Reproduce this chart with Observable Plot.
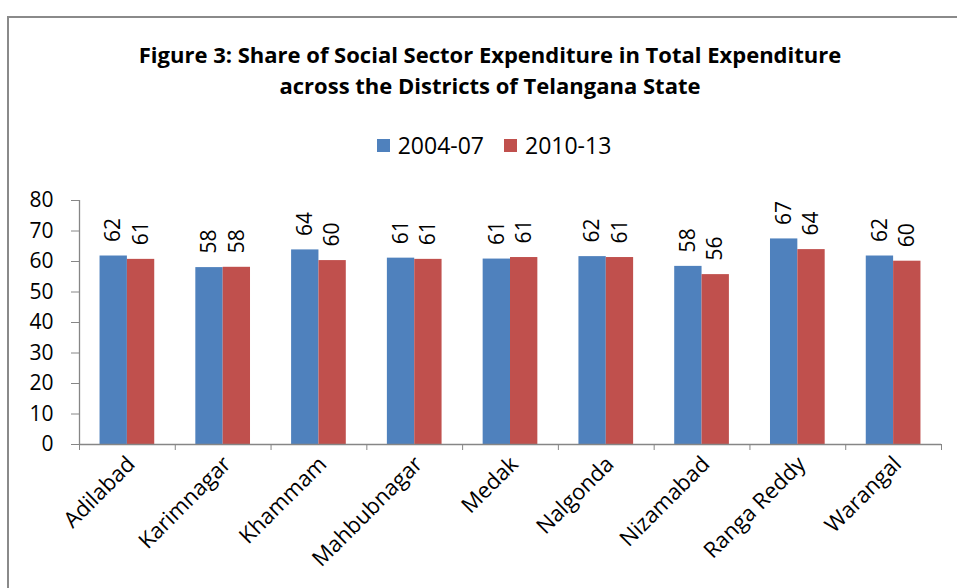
<!DOCTYPE html>
<html>
<head>
<meta charset="utf-8">
<script src="https://cdn.jsdelivr.net/npm/d3@7"></script>
<script src="https://cdn.jsdelivr.net/npm/@observablehq/plot@0.6"></script>
<style>
  html, body { margin: 0; padding: 0; background: #fff; }
  body { width: 957px; height: 588px; overflow: hidden; position: relative; font-family: "Open Sans", sans-serif; color: #000; }
  #frame { position: absolute; left: 7px; top: 16px; width: 1000px; height: 1000px; border-left: 2px solid #8a8a8a; border-top: 2px solid #8a8a8a; }
  #title { position: absolute; left: 0; width: 980px; top: 39px; text-align: center; font-weight: 700; font-size: 22px; line-height: 31px; }
  #legend { position: absolute; left: 0; width: 988px; top: 129px; display: flex; justify-content: center; align-items: center; font-size: 23px; line-height: 32px; }
  #legend .item { display: flex; align-items: center; margin: 0 10px; }
  #legend .sw { width: 13px; height: 13px; margin-right: 8px; display: inline-block; }
  #chart { position: absolute; left: 0; top: 180px; }
</style>
</head>
<body>
<div id="frame"></div>
<div id="title">Figure 3: Share of Social Sector Expenditure in Total Expenditure<br>across the Districts of Telangana State</div>
<div id="legend"></div>
<div id="chart"></div>
<script>
const districts = ["Adilabad", "Karimnagar", "Khammam", "Mahbubnagar", "Medak", "Nalgonda", "Nizamabad", "Ranga Reddy", "Warangal"];
const series = ["2004-07", "2010-13"];
const values2004 = [61.8, 58.0, 63.8, 61.1, 60.8, 61.6, 58.4, 67.4, 61.8];
const values2010 = [60.7, 58.1, 60.3, 60.7, 61.3, 61.3, 55.7, 63.9, 60.1];
const yTicks = [0, 10, 20, 30, 40, 50, 60, 70, 80];
const colors = ["#4F81BD", "#C0504D"];

const half = 0.2855; // half group width as fraction of category step
const data = districts.flatMap((d, i) => [
  {district: d, i, series: series[0], value: values2004[i], x1: i + 0.5 - half, x2: i + 0.5},
  {district: d, i, series: series[1], value: values2010[i], x1: i + 0.5, x2: i + 0.5 + half}
]);

// legend
const legend = document.getElementById("legend");
series.forEach((s, k) => {
  const item = document.createElement("span");
  item.className = "item";
  item.innerHTML = `<span class="sw" style="background:${colors[k]}"></span>${s}`;
  legend.appendChild(item);
});

const axisGray = "#868686";
const plot = Plot.plot({
  width: 957,
  height: 408,
  marginTop: 20,
  marginBottom: 144,
  marginLeft: 79,
  marginRight: 16,
  style: {fontFamily: "Open Sans", color: "#000", background: "transparent", overflow: "visible"},
  x: {type: "linear", domain: [0, districts.length]},
  y: {domain: [0, 80]},
  color: {domain: series, range: colors},
  marks: [
    Plot.rectY(data, {x1: "x1", x2: "x2", y: "value", fill: "series"}),
    Plot.ruleY([0], {stroke: axisGray, strokeWidth: 1.3}),
    Plot.ruleX([0], {stroke: axisGray, strokeWidth: 1.3}),
    Plot.axisY({ticks: yTicks, tickSize: 8, tickPadding: 18, fontSize: 21, stroke: axisGray, fill: "#000", label: null}),
    Plot.axisX({ticks: d3.range(0, districts.length + 1), tickSize: 6, tickFormat: () => "", stroke: axisGray, label: null}),
    Plot.axisX({ticks: d3.range(districts.length).map(i => i + 0.5), tickSize: 0, tickPadding: 16, tickRotate: -45,
      tickFormat: t => districts[Math.floor(t)], fontSize: 22, fill: "#000", label: null, dx: 4}),
    Plot.text(data, {x: d => (d.x1 + d.x2) / 2, y: "value", text: d => String(Math.round(d.value)),
      rotate: -90, textAnchor: "start", dy: -14, fontSize: 21, fill: "#000"})
  ]
});
document.getElementById("chart").appendChild(plot);
</script>
</body>
</html>
